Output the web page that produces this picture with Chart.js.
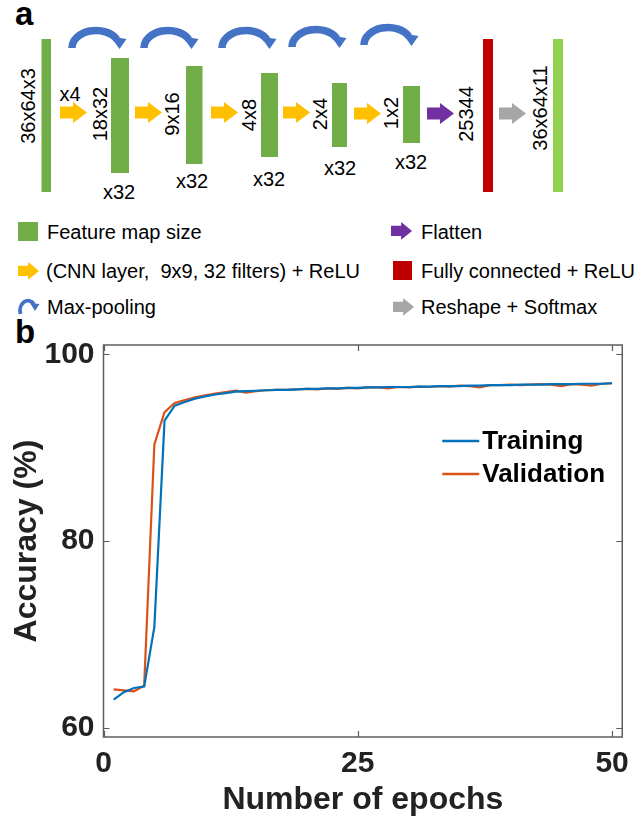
<!DOCTYPE html>
<html>
<head>
<meta charset="utf-8">
<script src="https://cdn.jsdelivr.net/npm/chart.js@4.4.1/dist/chart.umd.min.js"></script>
<style>
  html, body { margin: 0; padding: 0; background: #fff; }
  body { width: 638px; height: 825px; position: relative; overflow: hidden; font-family: 'Liberation Sans', Arial, sans-serif; }
  #diagram { position: absolute; left: 0; top: 0; }
  #plot { position: absolute; left: 0; top: 310px; width: 638px; height: 515px; }
</style>
</head>
<body>
<svg id="diagram" width="638" height="360" xmlns="http://www.w3.org/2000/svg" font-family="'Liberation Sans', Arial, sans-serif">
  <defs>
    <g id="pool">
      <path d="M4,22 A24,17.5 0 0 1 49,13.5" fill="none" stroke="#4472c4" stroke-width="7.5"/>
      <polygon points="42.5,10.5 58.5,13 51.5,23" fill="#4472c4"/>
    </g>
    <polygon id="arrow" points="0,4.5 13,4.5 13,0 27,10.5 13,21 13,16.5 0,16.5"/>
  </defs>

  <!-- panel label -->
  <text x="15" y="25" font-size="33" font-weight="bold" fill="#000">a</text>

  <!-- max-pooling arcs -->
  <use href="#pool" x="68" y="26"/>
  <use href="#pool" x="140" y="26"/>
  <use href="#pool" x="218" y="26"/>
  <use href="#pool" x="288" y="25"/>
  <use href="#pool" x="360" y="23"/>

  <!-- feature maps -->
  <rect x="41.5" y="39" width="9.5" height="153" fill="#70ad47"/>
  <rect x="111" y="58" width="18" height="115" fill="#70ad47"/>
  <rect x="186" y="66" width="16.5" height="98" fill="#70ad47"/>
  <rect x="261" y="73" width="17" height="84" fill="#70ad47"/>
  <rect x="332" y="83" width="15" height="64" fill="#70ad47"/>
  <rect x="403" y="86" width="17" height="57" fill="#70ad47"/>
  <rect x="483" y="39" width="10" height="153" fill="#c00000"/>
  <rect x="553" y="39" width="10" height="153" fill="#92d050"/>

  <!-- layer arrows -->
  <use href="#arrow" x="60" y="102" fill="#ffc000"/>
  <use href="#arrow" x="135" y="102" fill="#ffc000"/>
  <use href="#arrow" x="211" y="102" fill="#ffc000"/>
  <use href="#arrow" x="283" y="102" fill="#ffc000"/>
  <use href="#arrow" x="354" y="103" fill="#ffc000"/>
  <use href="#arrow" x="427" y="103" fill="#7030a0"/>
  <use href="#arrow" x="499" y="103" fill="#a6a6a6"/>

  <!-- sizes -->
  <g font-size="20" fill="#000" text-anchor="middle" dominant-baseline="central">
    <text transform="translate(28,106) rotate(-90)">36x64x3</text>
    <text x="70" y="94">x4</text>
    <text transform="translate(100,114) rotate(-90)">18x32</text>
    <text transform="translate(172,114) rotate(-90)">9x16</text>
    <text transform="translate(249,115) rotate(-90)">4x8</text>
    <text transform="translate(320,114) rotate(-90)">2x4</text>
    <text transform="translate(391,113) rotate(-90)">1x2</text>
    <text transform="translate(466,114) rotate(-90)">25344</text>
    <text transform="translate(540,108) rotate(-90)">36x64x11</text>
    <text x="119" y="192">x32</text>
    <text x="192" y="181">x32</text>
    <text x="269" y="179">x32</text>
    <text x="340" y="168">x32</text>
    <text x="411" y="162">x32</text>
  </g>

  <!-- key -->
  <rect x="18" y="222" width="20" height="19" fill="#70ad47"/>
  <use href="#arrow" transform="translate(18,262) scale(0.78,0.85)" fill="#ffc000"/>
  <path d="M20.5,314 A8,10 0 0 1 34,304" fill="none" stroke="#4472c4" stroke-width="3.8"/>
  <polygon points="30,303 39.5,304 35,311" fill="#4472c4"/>
  <use href="#arrow" transform="translate(391,222) scale(0.78,0.85)" fill="#7030a0"/>
  <rect x="393" y="261" width="19" height="19" fill="#c00000"/>
  <use href="#arrow" transform="translate(393,298) scale(0.78,0.85)" fill="#a6a6a6"/>
  <g font-size="20" fill="#000" dominant-baseline="central">
    <text x="47" y="232">Feature map size</text>
    <text x="46" y="271" xml:space="preserve">(CNN layer,  9x9, 32 filters) + ReLU</text>
    <text x="47" y="307">Max-pooling</text>
    <text x="421" y="232">Flatten</text>
    <text x="421" y="271">Fully connected + ReLU</text>
    <text x="421" y="307">Reshape + Softmax</text>
  </g>

  <text x="15" y="343" font-size="33" font-weight="bold" fill="#000">b</text>
</svg>

<div id="plot"><canvas id="acc"></canvas></div>

<script>
// Accuracy per epoch
const epochs = Array.from({length: 50}, (_, i) => i + 1);
const trainingAcc = [
  63.0, 63.8, 64.25, 64.4, 70.8, 92.9, 94.5, 94.9, 95.25, 95.5,
  95.7, 95.85, 96.0, 96.05, 96.1, 96.15, 96.2, 96.2, 96.25, 96.3,
  96.3, 96.35, 96.35, 96.4, 96.4, 96.45, 96.45, 96.5, 96.5, 96.5,
  96.55, 96.55, 96.6, 96.6, 96.6, 96.65, 96.65, 96.7, 96.7, 96.7,
  96.75, 96.75, 96.75, 96.8, 96.8, 96.8, 96.85, 96.85, 96.85, 96.9
];
const validationAcc = [
  64.1, 64.0, 63.9, 64.5, 90.35, 93.8, 94.8, 95.1, 95.4, 95.6,
  95.8, 95.95, 96.1, 95.9, 96.05, 96.15, 96.2, 96.2, 96.25, 96.3,
  96.25, 96.35, 96.3, 96.4, 96.35, 96.45, 96.45, 96.35, 96.5, 96.45,
  96.55, 96.5, 96.6, 96.55, 96.65, 96.6, 96.45, 96.7, 96.7, 96.75,
  96.7, 96.75, 96.8, 96.75, 96.6, 96.8, 96.75, 96.65, 96.85, 96.9
];
const xTickValues = [0, 25, 50];
const yTickValues = [60, 80, 100];
const seriesNames = ['Training', 'Validation'];
const seriesColors = ['#0072bd', '#d95319'];

const FONT = "'Liberation Sans', Arial, Helvetica, sans-serif";
const AXIS_COLOR = '#5e5e5e';
const TEXT_COLOR = '#222222';

// Box around the axes with inward tick marks on all four sides
const frameAndTicks = {
  id: 'frameAndTicks',
  afterDraw(chart) {
    const {ctx, chartArea: a, scales: {x, y}} = chart;
    const len = 6;
    ctx.save();
    ctx.strokeStyle = AXIS_COLOR;
    ctx.lineWidth = 1.5;
    ctx.strokeRect(a.left, a.top, a.right - a.left, a.bottom - a.top);
    ctx.beginPath();
    x.ticks.forEach(t => {
      const px = Math.round(x.getPixelForValue(t.value)) + 0.5;
      ctx.moveTo(px, a.bottom); ctx.lineTo(px, a.bottom - len);
      ctx.moveTo(px, a.top); ctx.lineTo(px, a.top + len);
    });
    y.ticks.forEach(t => {
      const py = Math.round(y.getPixelForValue(t.value)) + 0.5;
      ctx.moveTo(a.left, py); ctx.lineTo(a.left + len, py);
      ctx.moveTo(a.right, py); ctx.lineTo(a.right - len, py);
    });
    ctx.lineWidth = 1.2;
    ctx.stroke();
    ctx.restore();
  }
};

// Legend drawn inside the plotting area
const innerLegend = {
  id: 'innerLegend',
  afterDatasetsDraw(chart) {
    const {ctx, chartArea: a} = chart;
    ctx.save();
    ctx.font = 'bold 26px ' + FONT;
    ctx.textBaseline = 'middle';
    chart.data.datasets.forEach((ds, i) => {
      const yy = a.top + 96 + i * 33;
      const x0 = a.right - 180;
      ctx.strokeStyle = ds.borderColor;
      ctx.lineWidth = 2.5;
      ctx.beginPath();
      ctx.moveTo(x0, yy); ctx.lineTo(x0 + 37, yy);
      ctx.stroke();
      ctx.fillStyle = '#000';
      ctx.fillText(ds.label, x0 + 40, yy + 1);
    });
    ctx.restore();
  }
};

const toPoints = vals => vals.map((v, i) => ({x: epochs[i], y: v}));

new Chart(document.getElementById('acc'), {
  type: 'line',
  data: {
    datasets: [
      {label: seriesNames[0], data: toPoints(trainingAcc), borderColor: seriesColors[0]},
      {label: seriesNames[1], data: toPoints(validationAcc), borderColor: seriesColors[1]}
    ]
  },
  options: {
    responsive: true,
    maintainAspectRatio: false,
    animation: false,
    layout: {padding: {top: 35, right: 12, left: 0, bottom: 0}},
    elements: {
      point: {radius: 0},
      line: {borderWidth: 2.2, tension: 0, fill: false}
    },
    plugins: {legend: {display: false}, tooltip: {enabled: false}},
    scales: {
      x: {
        type: 'linear', min: 0, max: 51,
        grid: {display: false, drawTicks: false}, border: {display: false},
        afterBuildTicks: s => { s.ticks = xTickValues.map(v => ({value: v})); },
        afterFit: s => { s.height = 88; },
        ticks: {
          autoSkip: false, maxRotation: 0, padding: 9, color: TEXT_COLOR,
          font: {family: FONT, size: 30, weight: 'bold'}
        },
        title: {
          display: true, text: 'Number of epochs', color: TEXT_COLOR,
          font: {family: FONT, size: 32, weight: 'bold'},
          padding: {top: 0, bottom: 6}
        }
      },
      y: {
        type: 'linear', min: 59, max: 101,
        grid: {display: false, drawTicks: false}, border: {display: false},
        afterBuildTicks: s => { s.ticks = yTickValues.map(v => ({value: v})); },
        afterFit: s => { s.width = 103.5; },
        ticks: {
          autoSkip: false, padding: 9, color: TEXT_COLOR,
          font: {family: FONT, size: 30, weight: 'bold'}
        },
        title: {
          display: true, text: 'Accuracy (%)', color: TEXT_COLOR,
          font: {family: FONT, size: 32, weight: 'bold'},
          padding: {top: 8, bottom: 0}
        }
      }
    }
  },
  plugins: [frameAndTicks, innerLegend]
});
</script>
</body>
</html>
